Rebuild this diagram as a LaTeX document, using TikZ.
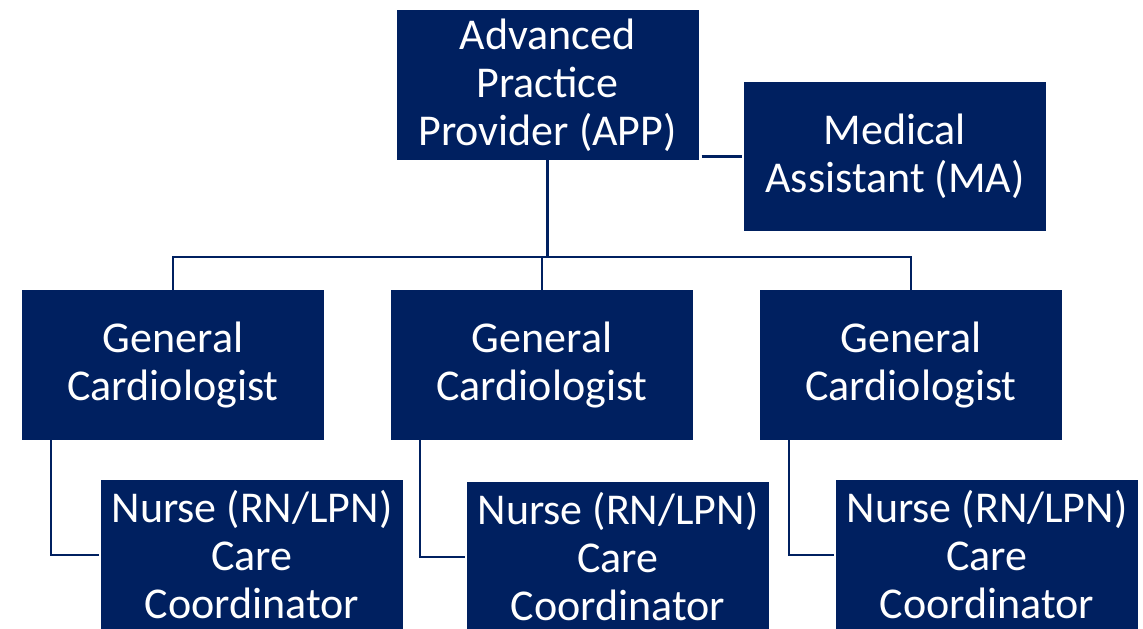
\documentclass[tikz,border=0pt]{standalone}
\usepackage{fontspec}
\setmainfont{Carlito}
\definecolor{navy}{RGB}{0,32,96}
\begin{document}
\begin{tikzpicture}[x=1pt,y=-1pt,
  role/.style={draw=none, fill=navy, text=white, minimum width=302pt,
    minimum height=150pt, inner sep=0pt, align=center,
    font=\fontsize{44}{48}\selectfont},
  link/.style={draw=navy, line width=2.5pt}]
\useasboundingbox (0,0) rectangle (1143,629);

% top row
\node[role] (app) at (547.5,85) {Advanced\\Practice\\Provider (APP)};
\node[role, minimum height=149pt] (ma) at (895,156.5) {Medical\\Assistant (MA)};

% cardiologists
\node[role] (c1) at (173,365) {General\\Cardiologist};
\node[role] (c2) at (542,365) {General\\Cardiologist};
\node[role] (c3) at (911,365) {General\\Cardiologist};

% care coordinators
\node[role] (n1) at (252,555) {Nurse (RN/LPN)\\Care\\Coordinator};
\node[role] (n2) at (618,557) {Nurse (RN/LPN)\\Care\\Coordinator};
\node[role] (n3) at (987,555) {Nurse (RN/LPN)\\Care\\Coordinator};

% bus line below the APP
\coordinate (bus) at (547,257);
\draw[link] (app.south) -- (app.south |- bus);
\draw[link] ([yshift=-2pt]c1.north) |- (bus) -| ([yshift=-2pt]c3.north);
\draw[link] ([yshift=-2pt]c2.north) -- (c2.north |- bus);

% APP to MA
\draw[link] ([xshift=3pt]ma.west -| app.east) -- ([xshift=-2pt]ma.west);

% cardiologist to nurse
\draw[link] ([xshift=29pt,yshift=3pt]c1.south west) |- ([xshift=-2pt]n1.west);
\draw[link] ([xshift=29pt,yshift=3pt]c2.south west) |- ([xshift=-2pt]n2.west);
\draw[link] ([xshift=29pt,yshift=3pt]c3.south west) |- ([xshift=-2pt]n3.west);
\end{tikzpicture}
\end{document}
